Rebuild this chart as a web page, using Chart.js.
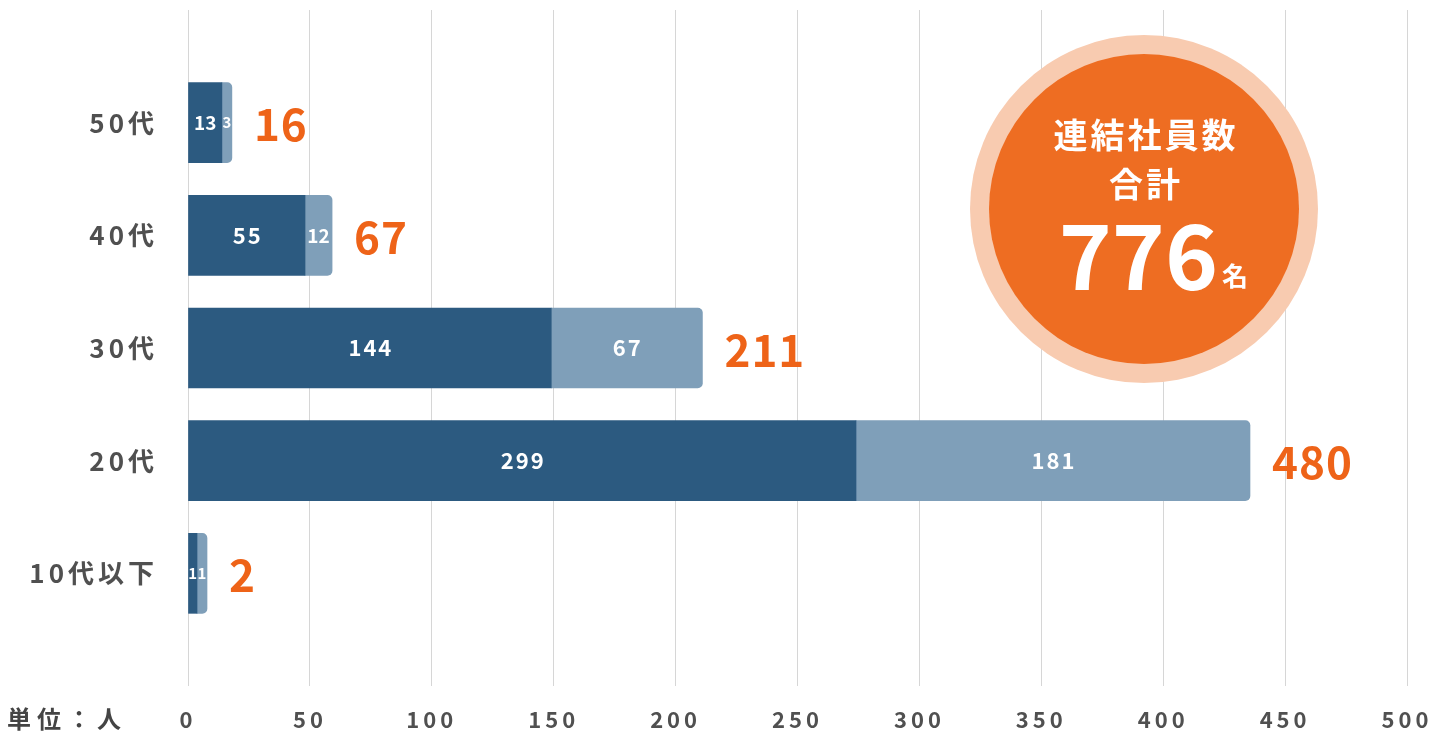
<!DOCTYPE html>
<html>
<head>
<meta charset="utf-8">
<script src="https://cdn.jsdelivr.net/npm/chart.js@4"></script>
<style>
	html, body { margin: 0; padding: 0; background: #fff; }
	#wrap { width: 1440px; height: 734px; position: relative; }
</style>
</head>
<body>
<div id="wrap"><canvas id="chart"></canvas></div>
<script>
// blank first / last rows keep the empty space above and below the bars
const categories = [ '', '50代', '40代', '30代', '20代', '10代以下', '' ];

// bar lengths as drawn in the reference (the segments are not to scale with their labels)
const innerBarLengths = [ null, 13.9, 48, 149, 274, 3.7, null ];
const outerBarLengths = [ null, 4.1, 11.1, 62, 161.6, 4.1, null ];

// numbers written on the bars
const innerLabels = [ null, 13, 55, 144, 299, 1, null ];
const outerLabels = [ null, 3, 12, 67, 181, 1, null ];
const totalLabels = [ null, 16, 67, 211, 480, 2, null ];

const xTicks = [ 0, 50, 100, 150, 200, 250, 300, 350, 400, 450, 500 ];

const grandTotal = 776;

const FONT = '"Noto Sans CJK JP", "Noto Sans", sans-serif';

// letter spacing for axis labels (canvas does not inherit it from css)
let axisSpacing = {
	id: 'axisSpacing',
	beforeDraw (chart) {
		chart.ctx.letterSpacing = '4px';
	},
	beforeDatasetsDraw (chart) {
		chart.ctx.letterSpacing = '0px';
	},
};

// numbers inside the segments and totals at the bar ends
let barLabels = {
	id: 'barLabels',
	afterDatasetsDraw (chart) {
		let { ctx } = chart;
		let inner = chart.getDatasetMeta(0).data;
		let outer = chart.getDatasetMeta(1).data;
		ctx.save();
		ctx.textBaseline = 'middle';

		let drawInside = (bar, text) => {
			if (!bar || text == null) { return; }
			let w = Math.abs(bar.x - bar.base);
			let size = w > 40 ? 22 : w > 20 ? 19 : 15;
			ctx.letterSpacing = w > 40 ? '2px' : '0px';
			ctx.font = `600 ${size}px ${FONT}`;
			ctx.fillStyle = '#fff';
			ctx.textAlign = 'center';
			ctx.fillText(String(text), (bar.x + bar.base) / 2 + (w > 40 ? 1 : 0), bar.y);
		};

		categories.forEach((c, i) => {
			if (innerLabels[i] == null) { return; }
			drawInside(inner[i], innerLabels[i]);
			drawInside(outer[i], outerLabels[i]);

			let end = outer[i].x;
			ctx.letterSpacing = '1px';
			ctx.font = `bold 44px ${FONT}`;
			ctx.fillStyle = '#ee6318';
			ctx.textAlign = 'left';
			ctx.fillText(String(totalLabels[i]), end + 22, outer[i].y + 2);
		});
		ctx.restore();
	},
};

// total badge and the unit note
let decorations = {
	id: 'decorations',
	afterDraw (chart) {
		let { ctx } = chart;
		let cx = 1144, cy = 209;
		ctx.save();
		ctx.letterSpacing = '0px';
		ctx.beginPath();
		ctx.arc(cx, cy, 174, 0, Math.PI * 2);
		ctx.fillStyle = '#f8cbb0';
		ctx.fill();
		ctx.beginPath();
		ctx.arc(cx, cy, 155, 0, Math.PI * 2);
		ctx.fillStyle = '#ee6d22';
		ctx.fill();

		ctx.fillStyle = '#fff';
		ctx.textAlign = 'center';
		ctx.textBaseline = 'middle';
		ctx.letterSpacing = '3px';
		ctx.font = `bold 34px ${FONT}`;
		ctx.fillText('連結社員数', cx + 2, 135);
		ctx.fillText('合計', cx + 2, 184);

		ctx.letterSpacing = '0px';
		ctx.font = `bold 90px ${FONT}`;
		ctx.textAlign = 'right';
		ctx.fillText(String(grandTotal), 1218, 256);
		ctx.font = `bold 26px ${FONT}`;
		ctx.textAlign = 'left';
		ctx.fillText('名', 1222, 276);

		ctx.fillStyle = '#444';
		ctx.letterSpacing = '6px';
		ctx.font = `bold 24px ${FONT}`;
		ctx.textAlign = 'left';
		ctx.fillText('単位：人', 7, 719);
		ctx.restore();
	},
};

let chartEl = document.getElementById('chart');

new Chart(chartEl, {
	type: 'bar',
	data: {
		labels: categories,
		datasets: [
			{
				data: innerBarLengths,
				backgroundColor: '#2c5a80',
				borderRadius: 0,
				barThickness: 80,
			},
			{
				data: outerBarLengths,
				backgroundColor: '#7f9fb9',
				borderRadius: 5,
				barThickness: 80,
			},
		],
	},
	options: {
		indexAxis: 'y',
		responsive: true,
		maintainAspectRatio: false,
		animation: false,
		layout: {
			padding: { top: 10, right: 33, left: 0, bottom: 0 },
		},
		plugins: {
			legend: { display: false },
			tooltip: { enabled: false },
		},
		scales: {
			x: {
				stacked: true,
				min: 0,
				max: 500,
				afterBuildTicks: (scale) => {
					scale.ticks = xTicks.map(v => ({ value: v }));
				},
				grid: {
					color: '#d6d6d6',
					lineWidth: 1,
					drawTicks: false,
				},
				border: { display: false },
				ticks: {
					padding: 20,
					color: '#505050',
					font: { size: 22, family: FONT, weight: 'bold' },
				},
				afterFit: (scale) => {
					scale.height = 48;
					scale.paddingLeft = 0;
					scale.paddingRight = 0;
				},
			},
			y: {
				stacked: true,
				offset: false,
				grid: { display: false },
				border: { display: false },
				ticks: {
					padding: 22,
					color: '#505050',
					font: { size: 26, family: FONT, weight: 'bold' },
				},
				afterFit: (scale) => {
					scale.width = 188;
					scale.paddingTop = 0;
					scale.paddingBottom = 0;
				},
			},
		},
	},
	plugins: [ axisSpacing, barLabels, decorations ],
});
</script>
</body>
</html>
